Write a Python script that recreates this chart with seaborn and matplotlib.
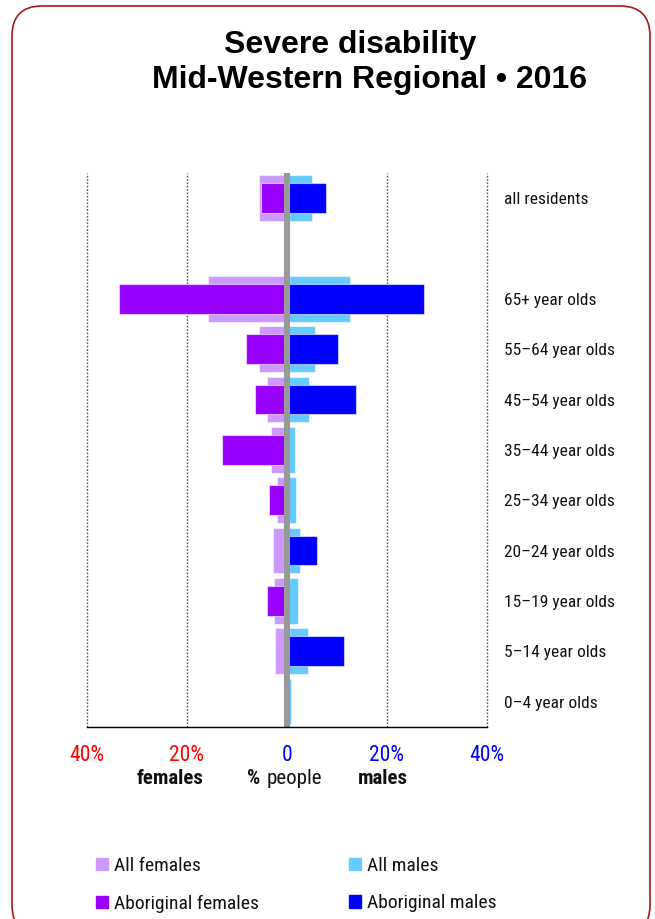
import matplotlib
matplotlib.use("Agg")
import matplotlib.pyplot as plt
import seaborn as sns
import pandas as pd
import numpy as np
from matplotlib.patches import Patch, FancyBboxPatch
from matplotlib import font_manager as fm

# ---- data ----
groups = ["all residents", "65+ year olds", "55–64 year olds", "45–54 year olds",
          "35–44 year olds", "25–34 year olds", "20–24 year olds", "15–19 year olds",
          "5–14 year olds", "0–4 year olds"]
order = ["all residents", " "] + groups[1:]
all_females = [5.6, 15.7, 5.5, 3.9, 3.1, 1.9, 2.8, 2.5, 2.3, 0.3]
all_males = [5.1, 12.6, 5.7, 4.4, 1.6, 1.9, 2.6, 2.3, 4.3, 0.8]
ab_females = [5.1, 33.5, 8.2, 6.4, 12.9, 3.6, 0.0, 3.9, 0.0, 0.0]
ab_males = [7.9, 27.5, 10.3, 13.9, 0.0, 0.0, 6.1, 0.0, 11.5, 0.0]
tick_vals = [-40, -20, 0, 20, 40]
tick_labels = ["40%", "20%", "0", "20%", "40%"]
tick_colors = ["#ff0000", "#ff0000", "#0000ff", "#0000ff", "#0000ff"]

C_ALLF = "#cc99ff"
C_ALLM = "#66ccff"
C_ABF = "#9900ff"
C_ABM = "#0000ff"

sns.set_style("white")

# find a narrow font if one is installed
narrow = None
names = {f.name: f for f in fm.fontManager.ttflist}
for cand in ["Liberation Sans Narrow", "Arial Narrow", "Roboto Condensed", "Open Sans Condensed",
             "Noto Sans Condensed", "DejaVu Sans Condensed"]:
    if cand in names:
        narrow = (cand, "normal")
        break
if narrow is None:
    for f in fm.fontManager.ttflist:
        st = f.stretch
        if (isinstance(st, str) and "condensed" in st) or (isinstance(st, int) and st < 500):
            narrow = (f.name, "condensed")
            break

if narrow is not None:
    FAM = [narrow[0], "Liberation Sans", "DejaVu Sans"]
    STRETCH = narrow[1]
    S_LAB, S_TICK, S_LEG, S_CAP = 12.5, 15.5, 14, 15
else:
    FAM = ["Liberation Sans", "DejaVu Sans"]
    STRETCH = "normal"
    S_LAB, S_TICK, S_LEG, S_CAP = 11, 13, 12, 12.5

plt.rcParams["font.family"] = FAM
plt.rcParams["font.stretch"] = STRETCH
plt.rcParams["text.color"] = "black"

W, H = 655, 919
fig = plt.figure(figsize=(W / 100, H / 100), dpi=100)
ax = fig.add_axes([86.7 / W, 1 - 726.7 / H, (487 - 86.7) / W, (726.7 - 173) / H])

df = pd.DataFrame({"group": groups, "allf": [-v for v in all_females], "allm": all_males,
                   "abf": [-v for v in ab_females], "abm": ab_males})

edge_light = (1, 1, 1, 0.55)
for col, color, width in [("allf", C_ALLF, 0.91), ("allm", C_ALLM, 0.91),
                          ("abf", C_ABF, 0.59), ("abm", C_ABM, 0.59)]:
    sns.barplot(data=df, x=col, y="group", order=order, orient="h", color=color,
                width=width, edgecolor=edge_light, linewidth=0.8, ax=ax,
                saturation=1, errorbar=None)

ax.set_xlim(-40, 40)
ax.set_ylim(len(order) - 0.5, -0.5)
ax.set_xlabel("")
ax.set_ylabel("")

for v in [-40, -20, 20, 40]:
    ax.axvline(v, color="#555555", lw=1.0, ls=(0, (1.2, 1.2)), zorder=0.5, clip_on=False)
ax.axvline(0, color="#999999", lw=4.4, zorder=5, solid_capstyle="butt")

for s in ["top", "left", "right"]:
    ax.spines[s].set_visible(False)
ax.spines["bottom"].set_color("black")
ax.spines["bottom"].set_linewidth(1.0)
ax.spines["bottom"].set_zorder(6)

ax.set_xticks(tick_vals)
ax.set_xticklabels(tick_labels, fontsize=S_TICK)
for lab, c in zip(ax.get_xticklabels(), tick_colors):
    lab.set_color(c)
ax.tick_params(axis="x", direction="out", length=5, width=1.2, color="#666666", pad=8)

ax.yaxis.tick_right()
ax.tick_params(axis="y", length=0, pad=12, labelsize=S_LAB)
for lab in ax.get_yticklabels():
    lab.set_color("#111111")

# axis captions
ycap = 1 - 784.3 / H
fig.text(170 / W, ycap, "females", ha="center", va="baseline",
         fontsize=S_CAP, fontweight="bold", color="#111111")
fig.text(246.7 / W, ycap, "%", ha="left", va="baseline", fontsize=S_CAP, fontweight="bold", color="#111111")
fig.text(266.7 / W, ycap, "people", ha="left", va="baseline", fontsize=S_CAP, color="#111111")
fig.text(383.3 / W, ycap, "males", ha="center", va="baseline", fontsize=S_CAP, fontweight="bold", color="#111111")

# title
TFAM = ["Liberation Sans", "DejaVu Sans"]
fig.text(350 / W, 1 - 45 / H, "Severe disability", ha="center", va="center",
         fontsize=23, fontweight="bold", family=TFAM, stretch="normal", color="black")
fig.text(369 / W, 1 - 80 / H, "Mid-Western Regional • 2016", ha="center", va="center",
         fontsize=23, fontweight="bold", family=TFAM, stretch="normal", color="black")

# legend
handles = [Patch(color=C_ALLF, label="All females"), Patch(color=C_ABF, label="Aboriginal females"),
           Patch(color=C_ALLM, label="All males"), Patch(color=C_ABM, label="Aboriginal males")]
leg = fig.legend(handles=handles, ncol=2, loc="upper left", bbox_to_anchor=(96 / W, 1 - 857 / H),
                 frameon=False, fontsize=S_LEG, handlelength=0.6, handleheight=0.6,
                 handletextpad=0.35, borderpad=0, borderaxespad=0, labelspacing=1.0,
                 columnspacing=4.6)
for t in leg.get_texts():
    t.set_color("#111111")

# rounded border
border = FancyBboxPatch((12 / 100, (H - 935) / 100), (650 - 12) / 100, (935 - 6) / 100,
                        boxstyle="round,pad=0,rounding_size=0.3", transform=fig.dpi_scale_trans,
                        fill=False, edgecolor="#a01c1c", lw=1.2, clip_on=False)
fig.patches.append(border)

fig.savefig("out.png", dpi=100)
